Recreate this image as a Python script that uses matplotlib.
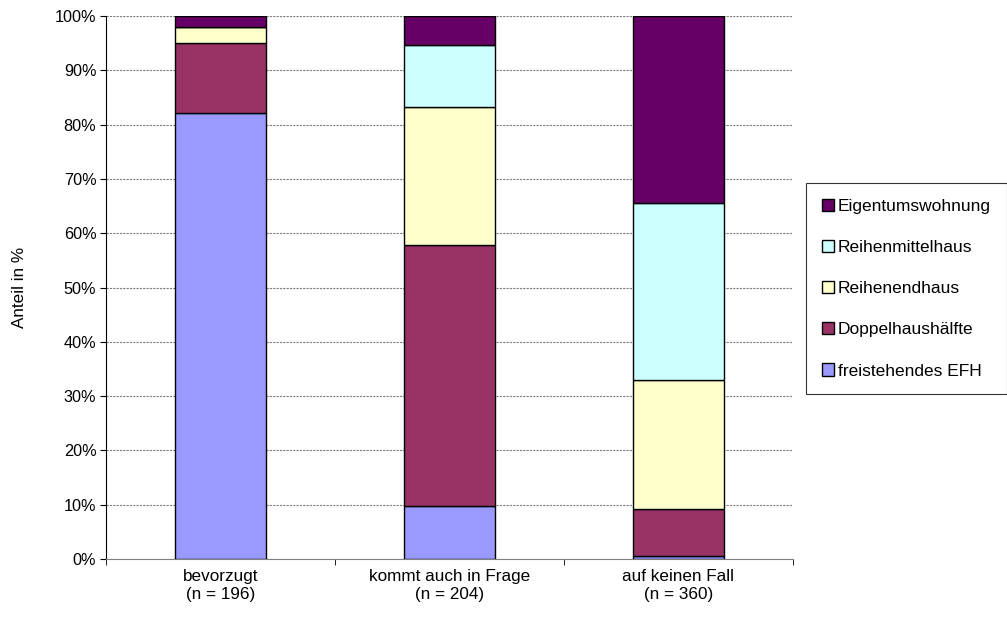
import numpy as np
import matplotlib.pyplot as plt

# Daten (Anteile in %)
kategorien = ["bevorzugt\n(n = 196)", "kommt auch in Frage\n(n = 204)", "auf keinen Fall\n(n = 360)"]
efh = [82.1, 9.8, 0.5]
doppel = [12.9, 48.0, 8.8]
reihenend = [3.0, 25.5, 23.6]
reihenmittel = [0.0, 11.3, 32.6]
eigentum = [2.0, 5.4, 34.5]

serien = ["freistehendes EFH", "Doppelhaushälfte", "Reihenendhaus", "Reihenmittelhaus", "Eigentumswohnung"]
farben = ["#9999FF", "#993366", "#FFFFCC", "#CCFFFF", "#660066"]

plt.rcParams['font.family'] = ['Liberation Sans', 'DejaVu Sans']

fig = plt.figure(figsize=(10.07, 6.19), dpi=100)
ax = fig.add_axes([106/1007, 60/619, 687/1007, 543/619])

x = np.arange(len(kategorien))
unten = np.zeros(len(kategorien))
for werte, name, farbe in zip([efh, doppel, reihenend, reihenmittel, eigentum], serien, farben):
    ax.bar(x, werte, width=0.4, bottom=unten, color=farbe, edgecolor='black',
           linewidth=1, label=name, zorder=3)
    unten += np.array(werte)

ax.set_xlim(-0.5, 2.5)
ax.set_ylim(0, 100)
ax.set_yticks(np.arange(0, 101, 10))
ax.set_yticklabels([f"{v}%" for v in range(0, 101, 10)], fontsize=11.7)
ax.set_xticks(x)
ax.set_xticklabels(kategorien, fontsize=12.3, linespacing=1.3)
ax.tick_params(axis='x', length=0, pad=7)
ax.set_xticks([-0.5, 0.5, 1.5, 2.5], minor=True)
ax.tick_params(axis='x', which='minor', length=4, direction='out')
ax.tick_params(axis='y', length=4, direction='out', pad=3)

ax.yaxis.grid(True, color='#808080', linestyle=(0, (2, 1)), linewidth=0.8, zorder=0)
ax.spines['top'].set_visible(False)
ax.spines['right'].set_visible(False)
ax.spines['left'].set_color('black')
ax.spines['bottom'].set_color('#808080')

ax.set_ylabel("Anteil in %", fontsize=12.3, labelpad=20)

h, l = ax.get_legend_handles_labels()
leg = fig.legend(h[::-1], l[::-1], loc='upper left', bbox_to_anchor=(806/1007, 1 - 183/619),
                 fontsize=12.5, frameon=True, fancybox=False, edgecolor='black',
                 handlelength=0.7, handleheight=0.7, handletextpad=0.25,
                 labelspacing=1.5, borderpad=0.9, borderaxespad=0)
leg.get_frame().set_linewidth(0.8)

fig.savefig("out.png", dpi=100)
